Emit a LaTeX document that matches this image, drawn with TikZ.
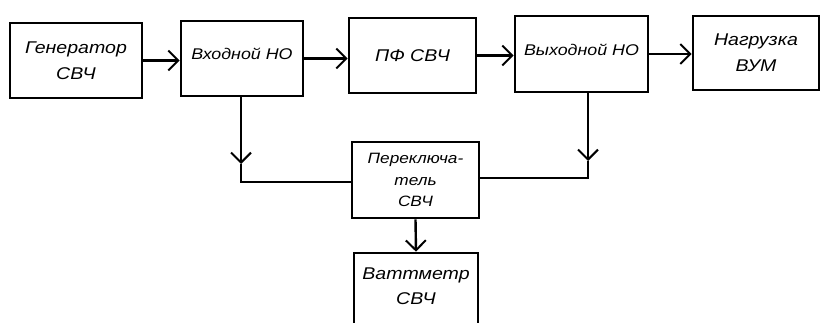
\documentclass[tikz,border=0pt]{standalone}
\usepackage{fontspec}
\setmainfont{Liberation Sans}
\newfontfamily\hand{Liberation Sans Italic}[FakeStretch=1.15]
\usetikzlibrary{arrows.meta}
\begin{document}
\begin{tikzpicture}[x=1pt,y=-1pt,
  blk/.style={draw, line width=2.6pt, rectangle, inner sep=0pt, align=center,
    font=\hand\fontsize{17}{26}\selectfont},
  lbl/.style={font=\hand\fontsize{17}{25}\selectfont, align=center},
  con/.style={line width=2.4pt},
  arr/.style={line width=2.4pt, -{Straight Barb[length=10pt,width=20pt,line width=2pt]}}]
\useasboundingbox (0,0) rectangle (821,323);
\clip (0,0) rectangle (821,323);
\node[blk, minimum width=132pt, minimum height=75pt] (gen) at (76,60.5) {Генератор\\СВЧ};
\node[blk, minimum width=122pt, minimum height=75pt,
  label={[lbl, font=\hand\fontsize{15.5}{25}\selectfont, yshift=5pt]center:Входной НО}] (in) at (242,58.5) {};
\node[blk, minimum width=127pt, minimum height=75pt] (pf) at (412.5,55.5) {ПФ СВЧ};
\node[blk, minimum width=133pt, minimum height=76pt,
  label={[lbl, font=\hand\fontsize{15.5}{25}\selectfont, yshift=4pt]center:Выходной НО}] (out) at (581.5,54) {};
\node[blk, minimum width=126pt, minimum height=74pt] (load) at (756,53) {Нагрузка\\ВУМ};
\node[blk, minimum width=127pt, minimum height=76pt,
  font=\hand\fontsize{15}{21.5}\selectfont] (sw) at (415.5,180) {Переключа-\\тель\\СВЧ};
\node[blk, minimum width=124pt, minimum height=90pt,
  label={[lbl, yshift=12pt]center:Ваттметр\\СВЧ}] (wm) at (416,298) {};
% main chain
\draw[arr] (gen.east) -- (gen.east -| in.west);
\draw[arr] (in.east) -- (in.east -| pf.west);
\draw[arr] (pf.east) -- (pf.east -| out.west);
\draw[arr] (out.east) -- (out.east -| load.west);
% left branch
\coordinate (lm) at (241,164);
\coordinate (lc) at (241,182);
\draw[arr] (in.south -| lm) -- (lm);
\draw[con] (lm) -- (lc) -- (lc -| sw.west);
% right branch
\coordinate (rm) at (588,161);
\coordinate (rc) at (588,178);
\draw[arr] (out.south -| rm) -- (rm);
\draw[con] (rm) -- (rc) -- (rc -| sw.east);
% to wattmeter
\draw[arr] (sw.south) -- (wm.north);
\end{tikzpicture}
\end{document}
